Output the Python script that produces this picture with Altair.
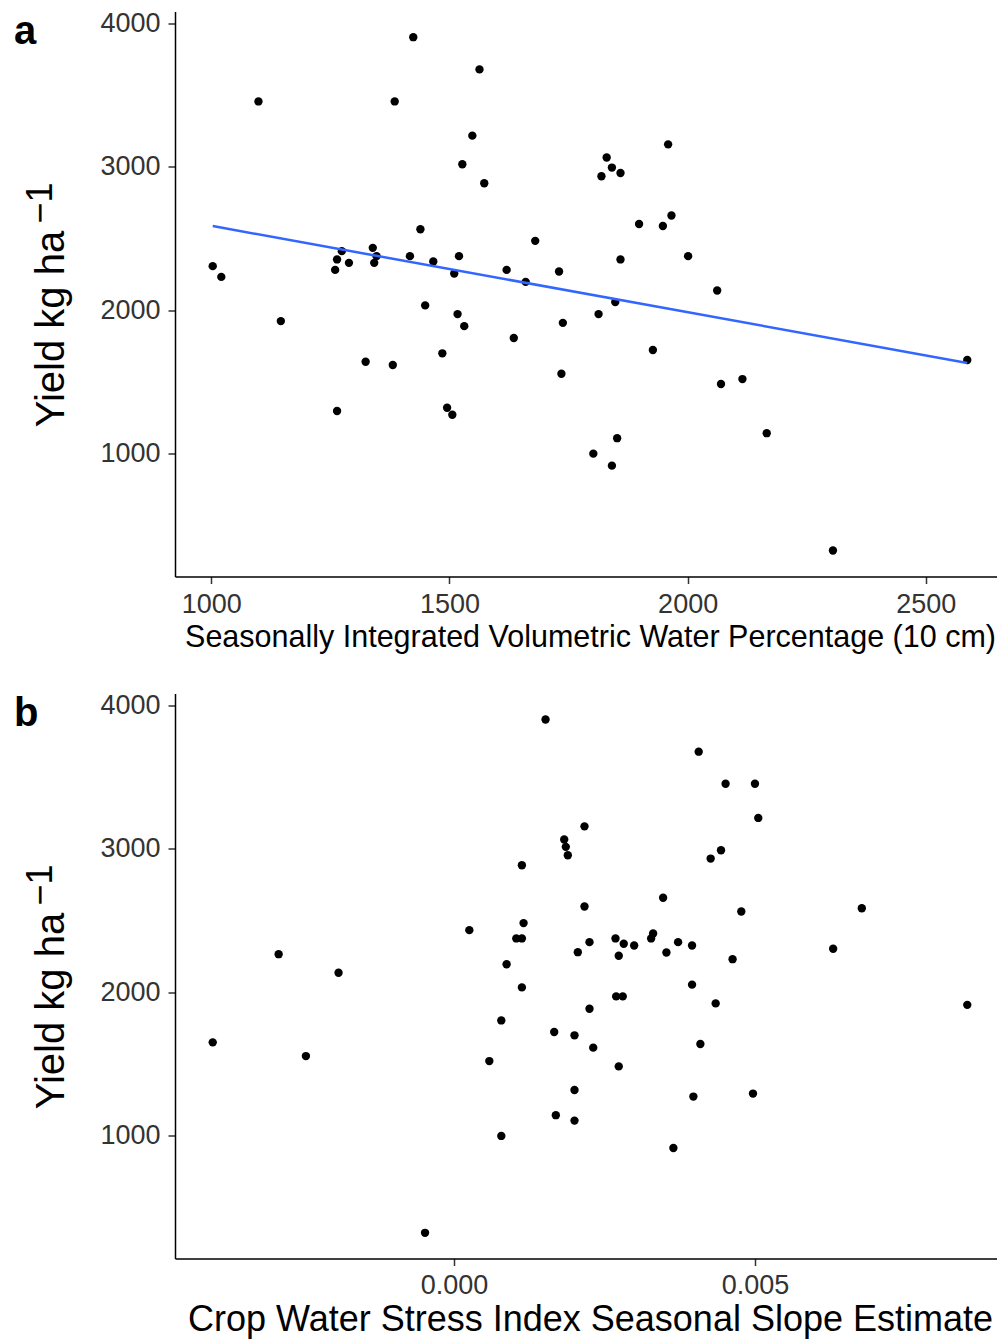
import altair as alt
import pandas as pd

# Panel a: seasonally integrated volumetric water percentage vs yield
vwc = [1424, 1563, 1099, 1385, 1548, 1527, 1573, 1439, 1680, 1339,
       1274, 1347, 1264, 1417, 1520, 1289, 1342, 1466, 1003, 1021,
       1260, 1510, 1620, 1660, 1730, 1449, 1959, 1830, 1841, 1859,
       1819, 1898, 1948, 1966, 1859, 2001, 2062, 1848, 1146, 1517,
       1531, 1635, 1738, 1485, 1324, 1381, 1735, 1264, 1495, 1506,
       1813, 1927, 2587, 2070, 2115, 2166, 1852, 1802, 1841, 2305]
yield_a = [3907, 3682, 3458, 3458, 3219, 3019, 2886, 2565, 2484, 2435,
           2412, 2377, 2354, 2377, 2377, 2330, 2330, 2340, 2307, 2232,
           2281, 2256, 2281, 2197, 2270, 2033, 3158, 3066, 2996, 2958,
           2935, 2602, 2588, 2661, 2354, 2377, 2137, 2056, 1923, 1972,
           1888, 1805, 1911, 1698, 1639, 1616, 1555, 1295, 1318, 1269,
           1972, 1721, 1651, 1484, 1518, 1140, 1105, 997, 913, 320]

# Panel b: CWSI seasonal slope estimate vs yield
cwsi = [0.001521, 0.002168, 0.001831, 0.001858, 0.001891, 0.001128, 0.002168, 0.001156, 0.000255, 0.001035,
        0.001128, 0.002251, -0.002913, 0.002057, -0.001918, 0.000874, 0.001128, 0.004065, 0.004512, 0.005000,
        0.005055, 0.004436, 0.004264, 0.003474, 0.004773, 0.006775, 0.002683, 0.002820, 0.002993, 0.003275,
        0.003308, 0.003723, 0.003955, 0.002737, 0.003529, 0.004628, 0.006299, 0.003955, 0.002251, 0.000786,
        0.001665, 0.002002, -0.004008, -0.002460, 0.000587, 0.002002, 0.001692, 0.002002, 0.000786, -0.000481,
        0.002694, 0.002804, 0.004347, 0.008527, 0.002313, 0.004093, 0.002737, 0.003977, 0.004967, 0.003645]
yield_b = [3905, 3158, 3066, 3015, 2956, 2886, 2598, 2482, 2433, 2375,
           2375, 2349, 2265, 2279, 2135, 2195, 2033, 3680, 3456, 3456,
           3217, 2991, 2933, 2659, 2563, 2586, 2375, 2338, 2326, 2375,
           2410, 2349, 2326, 2254, 2277, 2230, 2303, 2052, 1884, 1802,
           1721, 1698, 1649, 1553, 1518, 1316, 1140, 1102, 995, 318,
           1970, 1970, 1921, 1911, 1612, 1637, 1481, 1270, 1291, 911]

y_ticks = [1000, 2000, 3000, 4000]
xa_ticks = [1000, 1500, 2000, 2500]
xb_ticks = [0.0, 0.005]
y_title = "Yield kg ha"
y_title_sup = "−1"
xa_title = "Seasonally Integrated Volumetric Water Percentage (10 cm)"
xb_title = "Crop Water Stress Index Seasonal Slope Estimate"


def expand(vals, f=0.05):
    lo, hi = min(vals), max(vals)
    d = (hi - lo) * f
    return [lo - d, hi + d]


FONT = "Liberation Sans"
W, H = 830, 565

df_a = pd.DataFrame({"vwc": vwc, "yield": yield_a})
df_b = pd.DataFrame({"cwsi": cwsi, "yield": yield_b})

ydom = expand(yield_a + yield_b)


def yaxis():
    return alt.Axis(values=y_ticks, format="d", title=y_title, titleFontSize=40, titlePadding=28,
                    titleY=317, labelFontSize=27, labelPadding=8)


def letter(t):
    return alt.Chart(pd.DataFrame({"t": [t]})).mark_text(
        font=FONT, fontSize=40, fontWeight="bold", align="left", baseline="alphabetic",
        color="black").encode(text="t:N", x=alt.value(-161), y=alt.value(32))


def superscript():
    return alt.Chart(pd.DataFrame({"t": [y_title_sup]})).mark_text(
        font=FONT, fontSize=36, angle=270, align="left", baseline="alphabetic",
        color="black").encode(text="t:N", x=alt.value(-123), y=alt.value(212))


xa = alt.X("vwc:Q", scale=alt.Scale(domain=expand(vwc), nice=False, zero=False),
           axis=alt.Axis(values=xa_ticks, format="d", title=xa_title, titleFontSize=30.5, titlePadding=5,
                         labelFontSize=27, labelPadding=8))
ya = alt.Y("yield:Q", scale=alt.Scale(domain=ydom, nice=False, zero=False), axis=yaxis())

pts_a = alt.Chart(df_a).mark_circle(size=70, color="black", opacity=1).encode(x=xa, y=ya)
line_a = alt.Chart(df_a).transform_regression("vwc", "yield").mark_line(
    color="#3366FF", strokeWidth=2.5).encode(x="vwc:Q", y="yield:Q")
panel_a = alt.layer(pts_a, line_a, letter("a"), superscript()).properties(width=W, height=H)

xb = alt.X("cwsi:Q", scale=alt.Scale(domain=expand(cwsi), nice=False, zero=False),
           axis=alt.Axis(values=xb_ticks, format=".3f", title=xb_title, titleFontSize=36,
                         titlePadding=4, labelFontSize=27, labelPadding=7))
yb = alt.Y("yield:Q", scale=alt.Scale(domain=ydom, nice=False, zero=False), axis=yaxis())
pts_b = alt.Chart(df_b).mark_circle(size=70, color="black", opacity=1).encode(x=xb, y=yb)
panel_b = alt.layer(pts_b, letter("b"), superscript()).properties(width=W, height=H)

chart = alt.vconcat(panel_a, panel_b, spacing=38).properties(
    padding={"left": 6, "top": 1.5, "right": -8, "bottom": 3}
).configure_view(stroke=None).configure_axis(
    labelFont=FONT, titleFont=FONT, labelColor="#333333", titleColor="black",
    titleFontWeight="normal", domainColor="black", domainWidth=1.5, tickColor="#333333",
    tickWidth=1.5, tickSize=7, grid=False
)

chart.save("out.html", embed_options={"renderer": "svg", "actions": False})
